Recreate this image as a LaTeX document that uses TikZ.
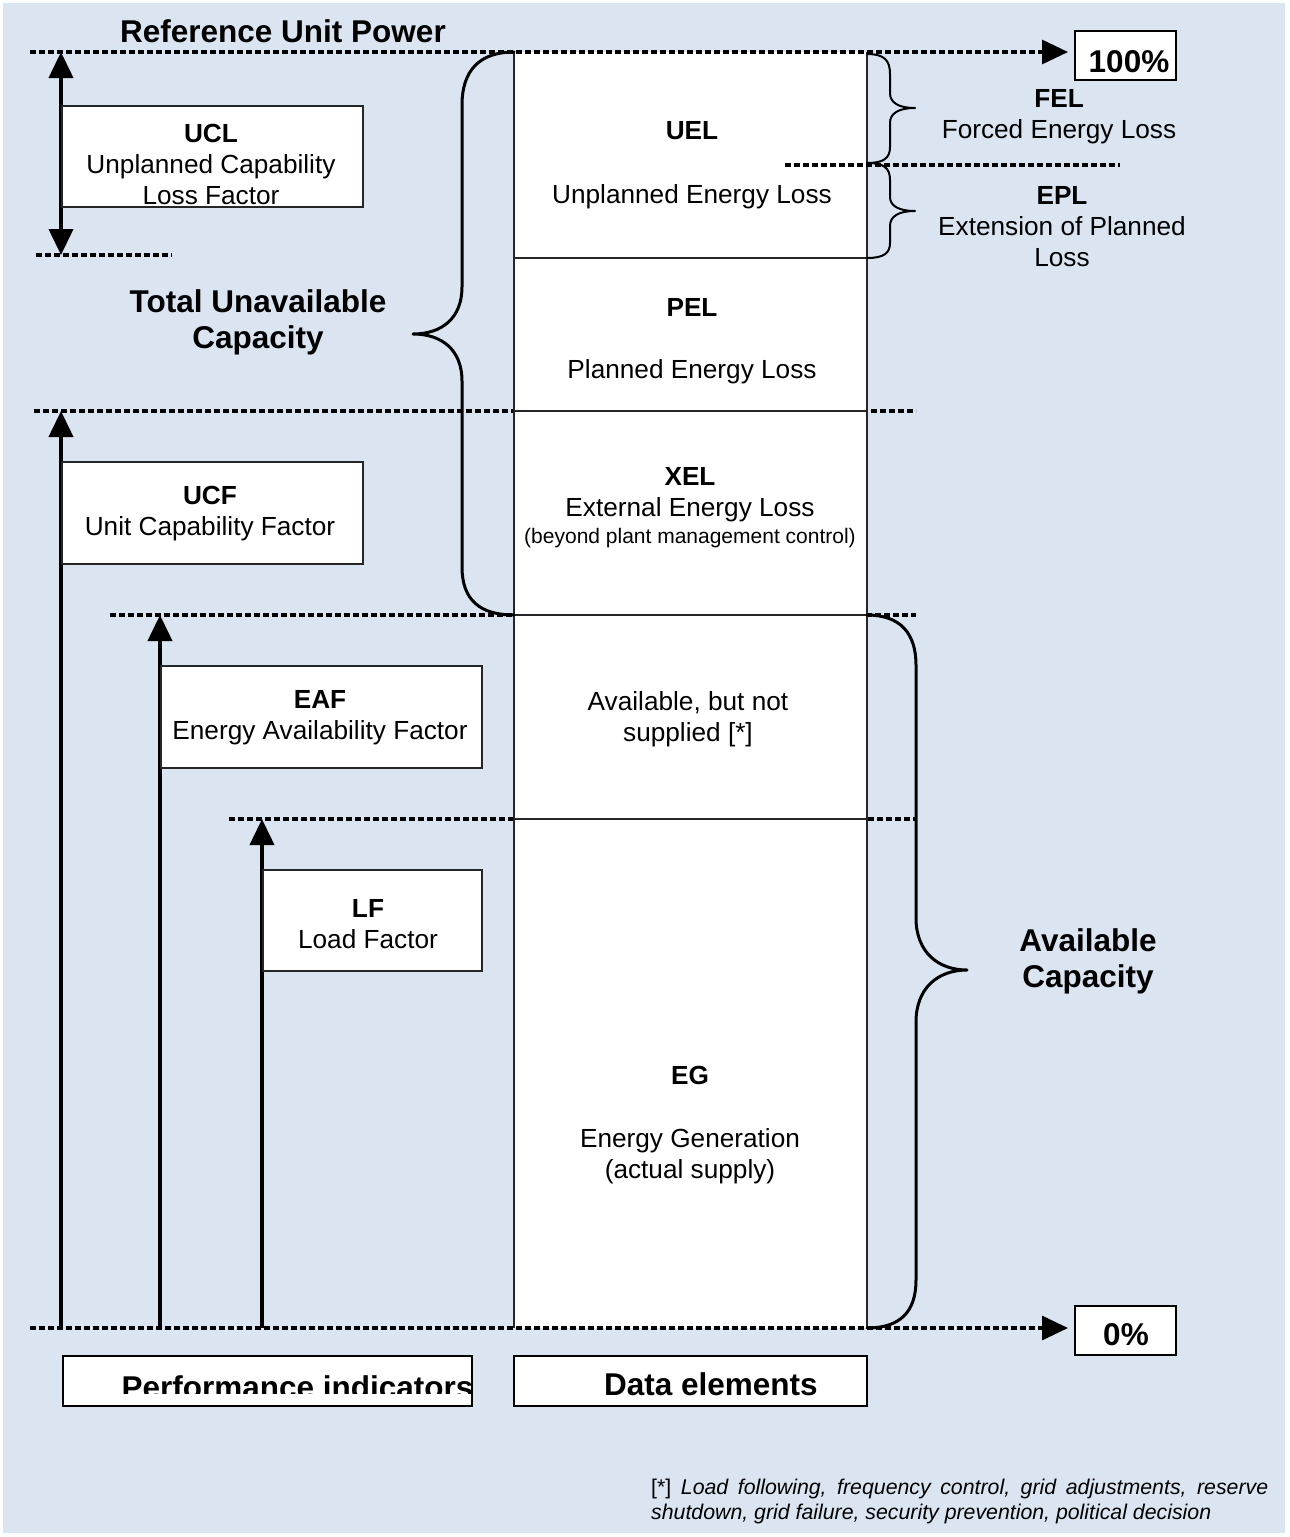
\documentclass[tikz,border=0pt]{standalone}
\usepackage{fontspec}
\setmainfont{Liberation Sans}
\usetikzlibrary{arrows.meta}
\definecolor{bgblue}{HTML}{DBE5F1}
\begin{document}
\begin{tikzpicture}[x=1pt,y=-1pt,
  dotline/.style={line width=3.2pt, dash pattern=on 6pt off 3pt},
  dotarrow/.style={dotline, -{Triangle[width=24pt,length=26pt]}},
  bigarrow/.style={line width=4pt, -{Triangle[width=24pt,length=26pt]}},
  dblarrow/.style={line width=4pt, {Triangle[width=24pt,length=26pt]}-{Triangle[width=24pt,length=26pt]}},
  colline/.style={line width=1.5pt, black!85},
  ibox/.style={draw=black!85, line width=1.5pt, fill=white, inner sep=0pt},
  pbox/.style={draw=black, line width=2pt, fill=white, inner sep=0pt, minimum width=101pt, minimum height=49pt},
  bigbrace/.style={line width=3pt, line cap=round, line join=round},
  smallbrace/.style={line width=2pt, line cap=round, line join=round},
  txt/.style={font=\fontsize{26.2}{31}\selectfont, align=center, inner sep=0pt},
  smalltxt/.style={font=\fontsize{21}{24}\selectfont, align=center, inner sep=0pt},
  bigbold/.style={font=\fontsize{31.5}{36}\selectfont\bfseries, align=center, inner sep=0pt}
]
\useasboundingbox (0,0) rectangle (1290,1537);
\fill[white] (0,0) rectangle (1290,1537);
\fill[bgblue] (3,3) rectangle (1285,1533);

% ---- coordinates
\coordinate (t0) at (30,52);
\coordinate (t1) at (1068,52);
\coordinate (b0) at (30,1328);
\coordinate (b1) at (1068,1328);
\coordinate (l255a) at (36,255);   \coordinate (l255b) at (172,255);
\coordinate (l411a) at (34,411);   \coordinate (l411b) at (916,411);
\coordinate (l615a) at (110,615);  \coordinate (l615b) at (916,615);
\coordinate (l819a) at (229,819);  \coordinate (l819b) at (916,819);
\coordinate (l165a) at (785,165);  \coordinate (l165b) at (1120,165);

% dotted level lines that lie behind the column
\draw[dotline] (l411a) -- (l411b);
\draw[dotline] (l615a) -- (l615b);
\draw[dotline] (l819a) -- (l819b);
\draw[dotline] (l255a) -- (l255b);

% ---- the column of data elements
\fill[white] (514,52) rectangle (867,1328);
\coordinate (cTL) at (514,52);  \coordinate (cTR) at (867,52);
\coordinate (cBL) at (514,1328); \coordinate (cBR) at (867,1328);
\draw[colline] (cTL) -- (cBL);
\draw[colline] (cTR) -- (cBR);
\draw[colline] (514,258) -- (867,258);
\draw[colline] (514,411) -- (867,411);
\draw[colline] (514,615) -- (867,615);
\draw[colline] (514,819) -- (867,819);

% dotted lines on top
\draw[dotarrow] (t0) -- (t1);
\draw[dotarrow] (b0) -- (b1);
\draw[dotline] (l165a) -- (l165b);

% ---- 100% / 0% boxes
\node[pbox] (box100) at (1125.5,55.5) {};
\node[font=\fontsize{31.5}{36}\selectfont\bfseries, inner sep=0pt] (p100) at (1129,61.5) {100\%};
\node[pbox] (box0) at (1125.5,1330.5) {};
\node[font=\fontsize{31.5}{36}\selectfont\bfseries, inner sep=0pt] (p0) at (1126,1335) {0\%};

% ---- indicator arrows
\coordinate (ucltop) at (61,52);   \coordinate (uclbot) at (61,255);
\coordinate (ucfbot) at (61,1328); \coordinate (ucftop) at (61,411);
\coordinate (eafbot) at (160,1328); \coordinate (eaftop) at (160,615);
\coordinate (lfbot) at (262,1328); \coordinate (lftop) at (262,819);
\draw[dblarrow] (ucltop) -- (uclbot);
\draw[bigarrow] (ucfbot) -- (ucftop);
\draw[bigarrow] (eafbot) -- (eaftop);
\draw[bigarrow] (lfbot) -- (lftop);

% ---- indicator boxes
\node[ibox, minimum width=301pt, minimum height=101pt] (uclbox) at (212.5,156.5) {};
\node[txt] (ucl) at (211,164) {\textbf{UCL}\\Unplanned Capability\\Loss Factor};
\node[ibox, minimum width=301pt, minimum height=102pt] (ucfbox) at (212.5,513) {};
\node[txt] (ucf) at (210,514) {\textbf{UCF}\\Unit Capability Factor};
\node[ibox, minimum width=321pt, minimum height=102pt] (eafbox) at (321.5,717) {};
\node[txt] (eaf) at (320,718) {\textbf{EAF}\\Energy Availability Factor};
\node[ibox, minimum width=219pt, minimum height=101pt] (lfbox) at (372.5,920.5) {};
\node[txt] (lf) at (368,924) {\textbf{LF}\\Load Factor};

% ---- braces
\draw[bigbrace] (cTL) .. controls (480,52) and (462,70) .. (462,105)
  -- (462,287) .. controls (462,318) and (442,334) .. (413,334)
  .. controls (442,334) and (462,350) .. (462,381)
  -- (462,567) .. controls (462,600) and (480,615) .. (514,615);
\draw[smallbrace] (867,54) .. controls (884,54) and (890,60) .. (890,74)
  -- (890,93) .. controls (890,103) and (899,108) .. (915,108)
  .. controls (899,108) and (890,113) .. (890,123)
  -- (890,147) .. controls (890,158) and (884,163) .. (867,163);
\draw[smallbrace] (867,163) .. controls (884,163) and (890,168) .. (890,180)
  -- (890,197) .. controls (890,206) and (899,211) .. (915,211)
  .. controls (899,211) and (890,216) .. (890,226)
  -- (890,243) .. controls (890,253) and (884,258) .. (867,258);
\draw[bigbrace] (867,615) .. controls (900,615) and (916,633) .. (916,665)
  -- (916,918) .. controls (916,952) and (938,970) .. (967,970)
  .. controls (938,970) and (916,988) .. (916,1022)
  -- (916,1280) .. controls (916,1312) and (900,1328) .. (cBR);

% ---- column texts
\node[txt] (uel) at (692,165) {\textbf{UEL}\\[33pt]Unplanned Energy Loss};
\node[txt] (pel) at (692,341) {\textbf{PEL}\\[31pt]Planned Energy Loss};
\node[txt] (xel) at (690,494.5) {\textbf{XEL}\\External Energy Loss};
\node[smalltxt] (xelsub) at (690,538) {(beyond plant management control)};
\node[txt] (avail) at (688,719) {Available, but not\\supplied [*]};
\node[txt] (eg) at (690,1125) {\textbf{EG}\\[32pt]Energy Generation\\(actual supply)};

% ---- side texts
\node[txt] (fel) at (1059,117) {\textbf{FEL}\\Forced Energy Loss};
\node[txt] (epl) at (1062,227) {\textbf{EPL}\\Extension of Planned\\Loss};
\node[bigbold] (refpow) at (283,31) {Reference Unit Power};
\node[bigbold] (tuc) at (258,322) {Total Unavailable\\Capacity};
\node[bigbold] (avc) at (1088,961) {Available\\Capacity};

% ---- bottom boxes
\node[ibox, draw=black, minimum width=409pt, minimum height=50pt] (pibox) at (267.5,1381) {};
\begin{scope}
  \clip (64,1357) rectangle (480,1393);
  \node[font=\fontsize{31.5}{36}\selectfont\bfseries, inner sep=0pt, anchor=base] (pi) at (297.5,1398) {Performance indicators};
\end{scope}
\node[ibox, draw=black, minimum width=353pt, minimum height=50pt] (debox) at (690.5,1381) {};
\node[font=\fontsize{31.5}{36}\selectfont\bfseries, inner sep=0pt, anchor=base] (de) at (711,1395) {Data elements};

% ---- footnote
\node[font=\fontsize{21.3}{24.5}\selectfont, text width=617pt, align=justify, inner sep=0pt, anchor=north west] (foot) at (651,1479)
  {[*] \textit{Load following, frequency control, grid adjustments, reserve shutdown, grid failure, security prevention, political decision}};
\end{tikzpicture}
\end{document}
